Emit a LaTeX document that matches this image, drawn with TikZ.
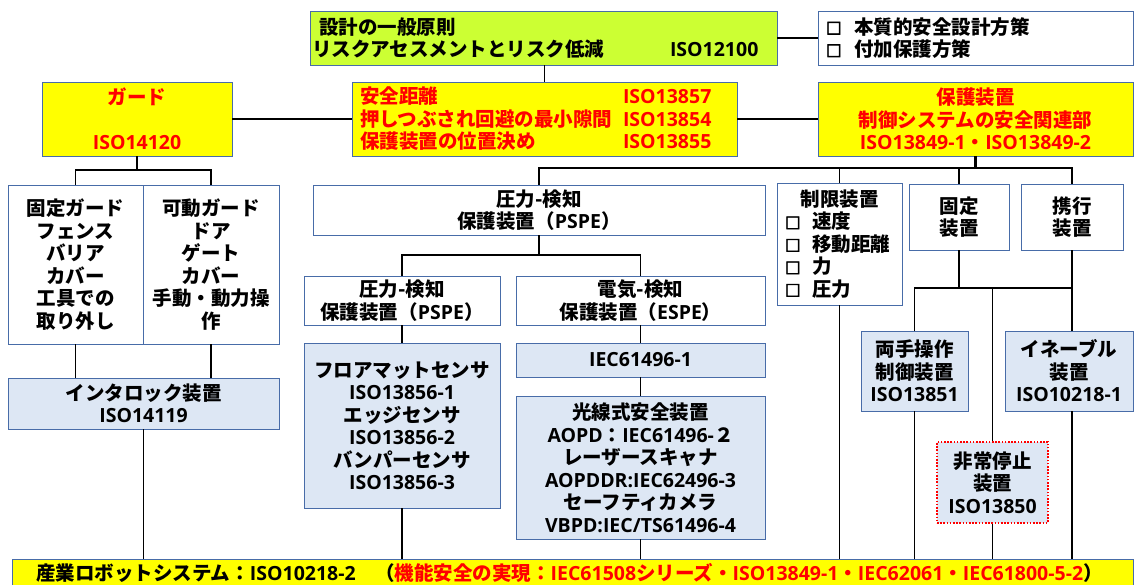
\documentclass[tikz,border=0pt]{standalone}
\usepackage{fontspec}
\setmainfont{Noto Sans CJK JP}
\newfontfamily\latinfont{Open Sans}[Scale=1.0]
\newfontfamily\sqfont{Noto Sans CJK JP}[FakeBold=4, BoldFeatures={FakeBold=4}, Scale=0.8]
\newcommand\E[1]{{\latinfont\bfseries #1}}
\newcommand\sq{{\sqfont □}}
\newcommand\chk{\makebox[27pt][l]{\sq}}
\definecolor{cBdr}{RGB}{72,108,168}
\definecolor{cLime}{RGB}{204,255,51}
\definecolor{cYlw}{RGB}{255,255,0}
\definecolor{cLblue}{RGB}{221,231,244}
\definecolor{cRed}{RGB}{255,0,0}
\tikzset{
  box/.style={draw=cBdr, line width=0.9pt, inner sep=0pt, align=center,
    font=\bfseries\fontsize{19.5}{22.5}\selectfont},
  conn/.style={line width=1.8pt, black},
  thk/.style={line width=2.6pt, black},
}
\begin{document}
\begin{tikzpicture}[x=1pt,y=-1pt]
\useasboundingbox (0,0) rectangle (1135,585);
\fill[white] (0,0) rectangle (1135,585);

% top row
\node[box, fill=cLime, minimum width=467pt, minimum height=54pt, text width=463pt, align=left] (g) at (543.5,38)
  {\hspace*{7pt}設計の一般原則\\\makebox[358pt][l]{リスクアセスメントとリスク低減}\E{ISO12100}};
\node[box, fill=white, minimum width=315pt, minimum height=54pt, text width=299pt, align=left] (r1) at (975.5,38)
  {\makebox[28pt][l]{\sq}本質的安全設計方策\\\makebox[28pt][l]{\sq}付加保護方策};

% second row
\node[box, fill=cYlw, text=cRed, minimum width=190pt, minimum height=74pt] (gd) at (137,119)
  {ガード\\~\\\E{ISO14120}};
\node[box, fill=cYlw, text=cRed, minimum width=385pt, minimum height=74pt, text width=369pt, align=left] (md) at (544.5,119)
  {\makebox[263pt][l]{安全距離}\E{ISO13857}\\\makebox[263pt][l]{押しつぶされ回避の最小隙間}\E{ISO13854}\\\makebox[263pt][l]{保護装置の位置決め}\E{ISO13855}};
\node[box, fill=cYlw, text=cRed, minimum width=315pt, minimum height=74pt] (pr) at (975.5,119)
  {保護装置\\制御システムの安全関連部\\\E{ISO13849-1}・\E{ISO13849-2}};

% guards
\node[box, fill=white, minimum width=135pt, minimum height=159pt] (fg) at (75.5,264.5)
  {固定ガード\\フェンス\\バリア\\カバー\\工具での\\取り外し};
\node[box, fill=white, minimum width=136pt, minimum height=159pt] (mg) at (211,264.5)
  {可動ガード\\ドア\\ゲート\\カバー\\手動・動力操\\作};
\node[box, fill=cLblue, minimum width=271pt, minimum height=51pt] (il) at (143.5,403.5)
  {インタロック装置\\\E{ISO14119}};

% sensing devices
\node[box, fill=white, minimum width=452pt, minimum height=50pt] (pb) at (539,210)
  {圧力-検知\\保護装置（\E{PSPE}）};
\node[box, fill=white, minimum width=196pt, minimum height=49pt] (ps) at (402,300.5)
  {圧力-検知\\保護装置（\E{PSPE}）};
\node[box, fill=white, minimum width=249pt, minimum height=49pt] (es) at (640.5,300.5)
  {電気-検知\\保護装置（\E{ESPE}）};
\node[box, fill=cLblue, minimum width=196pt, minimum height=165pt] (fm) at (402,425.5)
  {フロアマットセンサ\\\E{ISO13856-1}\\エッジセンサ\\\E{ISO13856-2}\\バンパーセンサ\\\E{ISO13856-3}};
\node[box, fill=cLblue, minimum width=249pt, minimum height=34pt] (ie) at (640.5,360)
  {\E{IEC61496-1}};
\node[box, fill=cLblue, minimum width=249pt, minimum height=143pt] (lc) at (640.5,467.5)
  {光線式安全装置\\\E{AOPD}：\E{IEC61496-}２\\レーザースキャナ\\\E{AOPDDR:IEC62496-3}\\セーフティカメラ\\\E{VBPD:IEC/TS61496-4}};

% right-hand devices
\node[box, fill=white, minimum width=125pt, minimum height=122pt, text width=109pt, align=left] (lm) at (839.5,244)
  {\makebox[109pt]{制限装置}\\\chk 速度\\\chk 移動距離\\\chk 力\\\chk 圧力};
\node[box, fill=white, minimum width=100pt, minimum height=66pt] (fd) at (959,217)
  {固定\\装置};
\node[box, fill=white, minimum width=102pt, minimum height=66pt] (pd) at (1072,217)
  {携行\\装置};
\node[box, fill=cLblue, minimum width=107pt, minimum height=80pt] (th) at (914.5,371)
  {両手操作\\制御装置\\\E{ISO13851}};
\node[box, fill=cLblue, minimum width=128pt, minimum height=80pt] (en) at (1069,371)
  {イネーブル\\装置\\\E{ISO10218-1}};
\node[box, fill=cLblue, draw=cRed, line width=1.6pt, dash pattern=on 1.6pt off 1.6pt, minimum width=111pt, minimum height=81pt] (st) at (992.5,482.5)
  {非常停止\\装置\\\E{ISO13850}};

% bottom bar
\node[box, fill=cYlw, minimum width=1121pt, minimum height=28pt, text width=1073pt, align=left] (bt) at (572.5,573)
  {\mbox{産業ロボットシステム：\E{ISO10218-2}　（\textcolor{cRed}{機能安全の実現：\E{IEC61508}シリーズ・\E{ISO13849-1}・\E{IEC62061}・\E{IEC61800-5-2}}）}};

% junctions
\coordinate (gj) at (137,170);
\coordinate (pj) at (975.5,168);
\coordinate (pbj) at (539,255);
\coordinate (fj) at (959,288);

% connectors
\draw[conn] (g.east) -- (g.east -| r1.west);
\draw[conn] (md.north) -- (md.north |- g.south);
\draw[conn] (gd.east) -- (gd.east -| md.west);
\draw[conn] (md.east) -- (md.east -| pr.west);

\draw[conn] (gd.south) -- (gj);
\draw[conn] (fg.north) |- (gj) -| (mg.north);
\draw[conn] (fg.south) -- (fg.south |- il.north);
\draw[conn] (mg.south) -- (mg.south |- il.north);
\draw[conn] (il.south) -- (il.south |- bt.north);

\draw[thk] (pr.south) -- (pj);
\draw[conn] (pb.north) |- (pj) -| (pd.north);
\draw[conn] (lm.north) -- (lm.north |- pj);
\draw[conn] (fd.north) -- (fd.north |- pj);

\draw[conn] (pb.south) -- (pbj);
\draw[conn] (ps.north) |- (pbj) -| (es.north);
\draw[conn] (ps.south) -- (ps.south |- fm.north);
\draw[conn] (fm.south) -- (fm.south |- bt.north);
\draw[conn] (es.south) -- (es.south |- ie.north);
\draw[conn] (ie.south) -- (ie.south |- lc.north);
\draw[conn] (lc.south) -- (lc.south |- bt.north);

\draw[conn] (lm.south) -- (lm.south |- bt.north);
\draw[thk] (fd.south) -- (fj);
\draw[conn] (th.north) |- (fj) -- (fj -| pd.south);
\draw[conn] (st.north) -- (st.north |- fj);
\draw[conn] (pd.south) -- (pd.south |- en.north);
\draw[conn] (th.south) -- (th.south |- bt.north);
\draw[conn] (st.south) -- (st.south |- bt.north);
\draw[conn] (en.south -| pd.south) -- (pd.south |- bt.north);
\end{tikzpicture}
\end{document}
